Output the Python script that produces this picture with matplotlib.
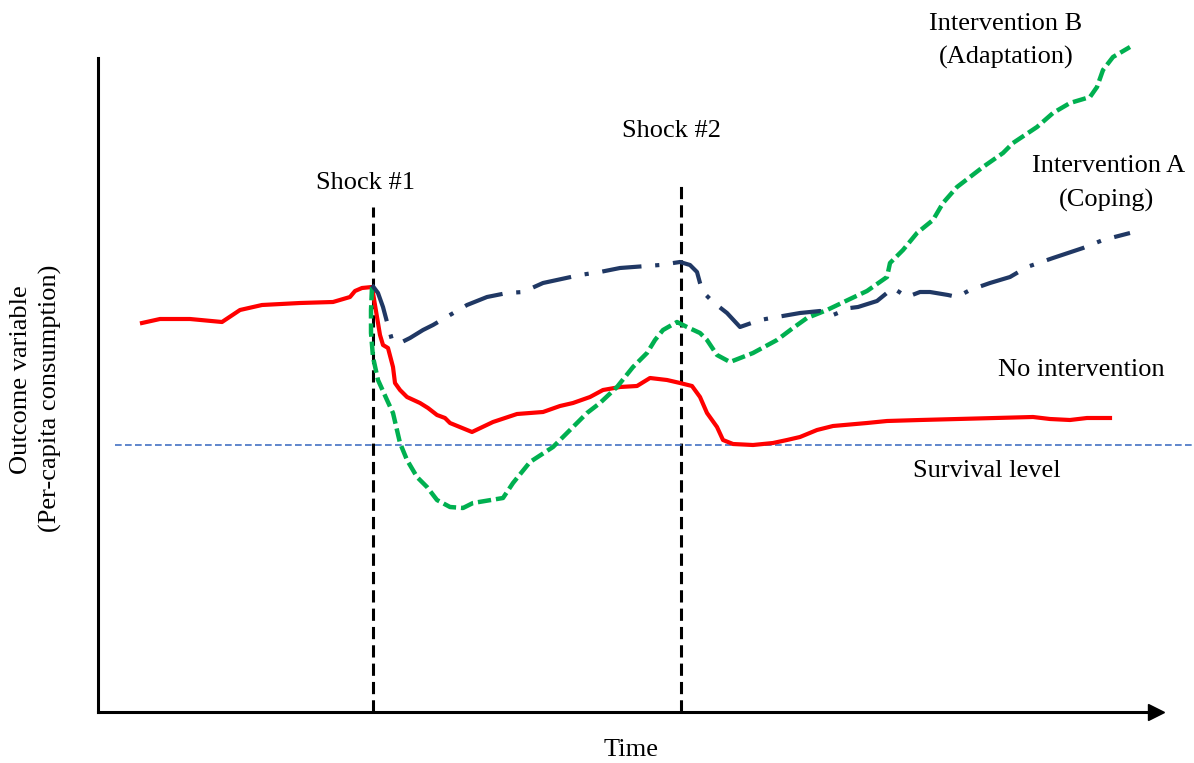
import matplotlib
matplotlib.use("Agg")
import matplotlib.pyplot as plt

plt.rcParams['font.family'] = ['Liberation Serif', 'DejaVu Serif']

# ---- data (time units, outcome units) ----
red_t = [44,62,92,124,142,164,202,235,252,257,264,274,277,282,285,290,295,297,302,309,
         322,330,339,347,352,374,395,419,445,462,475,492,505,522,539,552,569,582,594,602,
         609,619,625,635,655,675,689,702,719,735,769,789,822,935,952,972,989,1012]
red_v = [389,393,393,390,402,407,409,410,415,421,424,425,407,377,367,364,345,329,322,315,
         309,304,297,294,289,280,290,298,300,306,309,315,322,325,326,334,332,329,326,315,
         299,285,272,268,267,269,272,275,282,286,289,291,292,295,293,292,294,294]

green_t = [274,273,273,275,280,289,295,302,309,319,329,339,352,365,375,405,415,432,455,469,
           489,502,519,535,549,557,565,579,589,602,609,619,632,655,679,695,709,729,752,769,
           789,792,805,819,835,845,859,872,885,905,915,939,955,972,992,999,1005,1015,1032]
green_v = [425,402,379,355,332,312,299,269,252,235,225,212,205,204,209,214,229,250,265,279,
           299,309,325,345,359,372,382,390,385,379,372,357,350,359,372,384,394,402,413,421,
           435,449,462,479,492,509,525,535,545,559,569,585,599,609,615,625,642,655,665]

navy_t = [274,280,285,289,294,302,312,325,335,352,369,389,409,425,445,482,502,522,562,582,
          592,599,602,605,615,629,642,662,679,702,722,735,752,760,779,795,809,822,832,850,
          859,872,892,912,929,955,985,1005,1032]
navy_v = [427,419,405,390,372,369,374,382,387,397,407,415,419,420,429,437,440,444,447,450,
          447,440,429,420,410,399,385,392,395,399,401,397,404,405,411,424,415,420,420,417,
          415,422,429,435,445,454,464,472,479]

shock_t = [275, 583]
shock_top = [505, 526]
shock_labels = ["Shock #1", "Shock #2"]
survival_level = 267
survival_span = [17, 1094]

W, H = 1194, 763
fig = plt.figure(figsize=(W/100, H/100), dpi=100)
ax = fig.add_axes([98/W, 51/H, 1096/W, 712/H])
ax.set_xlim(0, 1096)
ax.set_ylim(0, 712)
ax.set_xticks([]); ax.set_yticks([])
for s in ['top', 'right']:
    ax.spines[s].set_visible(False)
for s in ['left', 'bottom']:
    ax.spines[s].set_linewidth(2.2)
    ax.spines[s].set_color('black')
ax.spines['left'].set_bounds(0, 654)
ax.spines['bottom'].set_bounds(0, 1052)
ax.plot([1058], [0], marker='>', ms=11, color='black', clip_on=False, zorder=5)

# shock lines
for t, top in zip(shock_t, shock_top):
    ax.plot([t, t], [0, top], color='black', lw=2.2, dashes=(4, 2), zorder=2)

# survival level
ax.plot(survival_span, [survival_level]*2, color='#4472C4', lw=1.2, dashes=(4, 2), zorder=2)

ax.plot(red_t, red_v, color='#FF0000', lw=3, solid_joinstyle='round', zorder=3)
ax.plot(green_t, green_v, color='#00B050', lw=3.2, dashes=(3, 1.1), zorder=4, clip_on=False)
ax.plot(navy_t, navy_v, color='#203864', lw=3, dashes=(9.5, 3.3, 1, 3.3), zorder=5)

fs = 19
def ftext(x, y, s, **kw):
    fig.text(x/W, 1 - y/H, s, ha='center', va='center', fontsize=fs, **kw)

ftext(366, 183, shock_labels[0])
ftext(671, 131, shock_labels[1])
ftext(1006, 24, "Intervention B")
ftext(1006, 57, "(Adaptation)")
ftext(1109, 166, "Intervention A")
ftext(1107, 200, "(Coping)")
ftext(1081, 370, "No intervention")
ftext(987, 471, "Survival level")
ftext(631, 750, "Time")
ftext(21, 380, "Outcome variable", rotation=90)
ftext(50, 398, "(Per-capita consumption)", rotation=90)

fig.savefig("out.png", dpi=100)
